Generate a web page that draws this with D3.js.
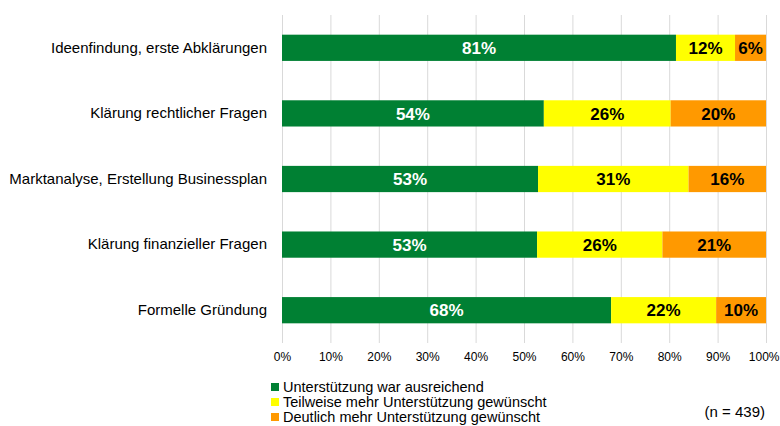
<!DOCTYPE html>
<html>
<head>
<meta charset="utf-8">
<script src="https://cdn.jsdelivr.net/npm/d3@7"></script>
<style>
  body { margin: 0; background: #fff; }
  svg { display: block; font-family: "Liberation Sans", Arial, sans-serif; }
</style>
</head>
<body>
<svg id="chart"></svg>
<script>
"use strict";

var categories = [
  "Ideenfindung, erste Abklärungen",
  "Klärung rechtlicher Fragen",
  "Marktanalyse, Erstellung Businessplan",
  "Klärung finanzieller Fragen",
  "Formelle Gründung"
];
var seriesNames = [
  "Unterstützung war ausreichend",
  "Teilweise mehr Unterstützung gewünscht",
  "Deutlich mehr Unterstützung gewünscht"
];
var ausreichend = [81.4, 54.1, 52.9, 52.7, 68.0];
var teilweise = [12.2, 26.2, 31.1, 25.9, 21.7];
var deutlich = [6.4, 19.7, 16.0, 21.4, 10.3];
var xTicks = [0, 10, 20, 30, 40, 50, 60, 70, 80, 90, 100];
var colors = ["#008033", "#ffff00", "#ff9900"];
var labelColors = ["#ffffff", "#000000", "#000000"];
var note = "(n = 439)";

var width = 780;
var height = 426;
var margin = { top: 15, right: 14, bottom: 83, left: 282 };
var font = "'Liberation Sans', Arial, sans-serif";

var svg = d3.select("#chart").attr("width", width).attr("height", height);

var rows = categories.map(function (c, i) {
  return { cat: c, v: [ausreichend[i], teilweise[i], deutlich[i]] };
});
var stack = d3.stack().keys([0, 1, 2]).value(function (d, k) { return d.v[k]; });
var layers = stack(rows);

var x = d3.scaleLinear().domain([0, 100]).range([margin.left, width - margin.right]);
var y = d3.scaleBand().domain(categories)
  .range([margin.top, height - margin.bottom])
  .paddingInner(0.6).paddingOuter(0.3);

// gridlines
svg.append("g").selectAll("line").data(xTicks).enter().append("line")
  .attr("x1", function (d) { return x(d) + 0.5; })
  .attr("x2", function (d) { return x(d) + 0.5; })
  .attr("y1", margin.top)
  .attr("y2", height - margin.bottom)
  .attr("stroke", "#d9d9d9")
  .attr("stroke-width", 1);

// bars
var G = svg.append("g");
layers.forEach(function (layer, k) {
  G.append("g").selectAll("rect").data(layer).enter().append("rect")
    .attr("x", function (d) { return x(d[0]); })
    .attr("y", function (d) { return y(d.data.cat); })
    .attr("width", function (d) { return x(d[1]) - x(d[0]); })
    .attr("height", y.bandwidth())
    .attr("fill", colors[k]);
  G.append("g").selectAll("text").data(layer).enter().append("text")
    .attr("x", function (d) { return (x(d[0]) + x(d[1])) / 2; })
    .attr("y", function (d) { return y(d.data.cat) + y.bandwidth() / 2; })
    .attr("dy", "0.36em")
    .attr("text-anchor", "middle")
    .attr("font-size", 17)
    .attr("font-weight", "bold")
    .attr("fill", labelColors[k])
    .text(function (d) { return Math.round(d[1] - d[0]) + "%"; });
});

// category axis
var yAxis = svg.append("g")
  .attr("transform", "translate(" + (margin.left - 15) + ",0)")
  .call(d3.axisLeft(y).tickSize(0).tickPadding(0));
yAxis.select(".domain").remove();
yAxis.attr("font-family", font);
yAxis.selectAll("text").attr("font-size", 15).attr("fill", "#000");

// value axis
var xAxis = svg.append("g")
  .attr("transform", "translate(0," + (height - margin.bottom) + ")")
  .call(d3.axisBottom(x).tickValues(xTicks).tickSize(0).tickPadding(9)
    .tickFormat(function (d) { return d + "%"; }));
xAxis.select(".domain").remove();
xAxis.attr("font-family", font);
xAxis.selectAll("text").attr("font-size", 12).attr("fill", "#000");
// keep the last label inside the window
xAxis.selectAll("text").filter(function (d) { return d === 100; })
  .attr("text-anchor", "end").attr("dx", width - 1 - x(100));

// legend
var legend = svg.append("g").selectAll("g").data(seriesNames).enter().append("g")
  .attr("transform", function (d, i) { return "translate(271," + (387 + i * 15) + ")"; });
legend.append("rect")
  .attr("x", 0).attr("y", -4)
  .attr("width", 8).attr("height", 8)
  .attr("fill", function (d, i) { return colors[i]; });
legend.append("text")
  .attr("x", 12).attr("y", 0).attr("dy", "0.36em")
  .attr("font-size", 14.5).attr("fill", "#000")
  .text(function (d) { return d; });

svg.append("text")
  .attr("x", 765).attr("y", 412).attr("dy", "0.36em")
  .attr("text-anchor", "end")
  .attr("font-size", 15).attr("fill", "#000")
  .text(note);
</script>
</body>
</html>
